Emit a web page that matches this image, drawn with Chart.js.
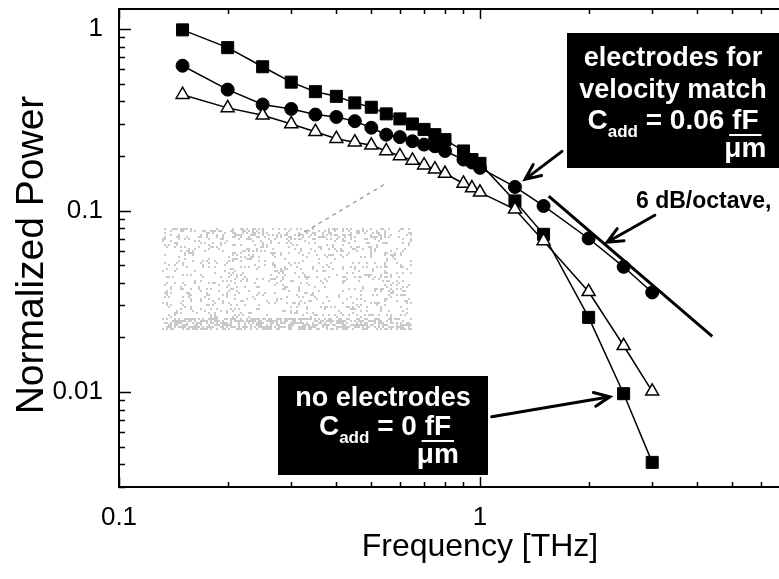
<!DOCTYPE html>
<html>
<head>
<meta charset="utf-8">
<script src="https://cdn.jsdelivr.net/npm/chart.js@4"></script>
<style>
  html, body { margin: 0; padding: 0; background: #fff; }
  canvas { display: block; }
</style>
</head>
<body>
<canvas id="chart" width="779" height="579"></canvas>
<script>
// frequencies in THz
const freqs = [0.15, 0.2, 0.25, 0.3, 0.35, 0.4, 0.45, 0.5, 0.55, 0.6, 0.65, 0.7, 0.75, 0.8, 0.9, 0.95, 1.0,
               1.25, 1.5, 2.0, 2.5, 3.0];
// no electrodes (filled squares)
const powerSquares = [0.99, 0.79, 0.62, 0.51, 0.452, 0.426, 0.392, 0.371, 0.341, 0.32, 0.30, 0.28, 0.262, 0.246, 0.213, 0.191, 0.182,
                      0.113, 0.074, 0.0258, 0.0098, 0.0041];
// electrodes for velocity match (filled circles)
const powerCircles = [0.628, 0.464, 0.384, 0.363, 0.338, 0.328, 0.311, 0.286, 0.262, 0.254, 0.241, 0.231, 0.226, 0.213, 0.191, 0.184, 0.172,
                      0.135, 0.106, 0.0702, 0.049, 0.0354];
// open triangles
const powerTriangles = [0.435, 0.368, 0.335, 0.30, 0.272, 0.249, 0.238, 0.229, 0.213, 0.20, 0.189, 0.178, 0.169, 0.16, 0.141, 0.133, 0.126,
                        0.1016, 0.068, 0.0357, 0.018, 0.0101];
// 6 dB/octave reference line
const slopeFreqs = [1.55, 4.4];
const slopePower = [0.12, 0.0203];

const xTickVals = [0.1, 1];
const yTickVals = [0.01, 0.1, 1];

const FONT = "'Liberation Sans', Arial, Helvetica, sans-serif";

function pts(xs, ys) {
  return xs.map((x, i) => ({ x: x, y: ys[i] }));
}

function minorVals(min, max) {
  const out = [];
  for (let d = 0.001; d <= 10; d *= 10) {
    for (let k = 1; k <= 9; k++) {
      const v = +(k * d).toPrecision(3);
      if (v >= min && v <= max) out.push(v);
    }
  }
  return out;
}

function arrow(ctx, x1, y1, x2, y2) {
  const ang = Math.atan2(y2 - y1, x2 - x1);
  const L = 17, spread = 0.42;
  ctx.beginPath();
  ctx.moveTo(x1, y1);
  ctx.lineTo(x2, y2);
  ctx.moveTo(x2 - L * Math.cos(ang - spread), y2 - L * Math.sin(ang - spread));
  ctx.lineTo(x2, y2);
  ctx.lineTo(x2 - L * Math.cos(ang + spread), y2 - L * Math.sin(ang + spread));
  ctx.stroke();
}

// C_add = <value> fF / um, centred on cx
function caddLine(ctx, cx, base, value) {
  const big = 'bold 28px ' + FONT, small = 'bold 17px ' + FONT;
  ctx.font = big;
  const wC = ctx.measureText('C').width;
  const wMid = ctx.measureText(' = ' + value + ' ').width;
  const wF = ctx.measureText('fF').width;
  ctx.font = small;
  const wSub = ctx.measureText('add').width;
  const total = wC + wSub + wMid + wF;
  let x = cx - total / 2;
  ctx.textAlign = 'left';
  ctx.textBaseline = 'alphabetic';
  ctx.font = big;
  ctx.fillText('C', x, base); x += wC;
  ctx.font = small;
  ctx.fillText('add', x, base + 8); x += wSub;
  ctx.font = big;
  ctx.fillText(' = ' + value + ' ', x, base); x += wMid;
  ctx.fillText('fF', x, base);
  ctx.fillRect(x - 3, base + 5, wF + 6, 2);
  ctx.textAlign = 'center';
  ctx.fillText('\u03bcm', x + wF / 2, base + 28);
}

const decor = {
  id: 'decor',
  afterDraw(chart) {
    const { ctx, chartArea: a, scales: { x, y } } = chart;
    ctx.save();
    ctx.strokeStyle = '#000';
    ctx.fillStyle = '#000';

    // top frame line
    ctx.lineWidth = 2;
    ctx.beginPath();
    ctx.moveTo(a.left, a.top);
    ctx.lineTo(a.right, a.top);
    ctx.stroke();

    // inward tick marks
    ctx.lineWidth = 1.5;
    ctx.beginPath();
    minorVals(y.min, y.max).forEach(v => {
      const py = Math.round(y.getPixelForValue(v)) + 0.5;
      const len = yTickVals.includes(v) ? 12 : 6;
      ctx.moveTo(a.left, py);
      ctx.lineTo(a.left + len, py);
    });
    minorVals(x.min, x.max).forEach(v => {
      const px = Math.round(x.getPixelForValue(v)) + 0.5;
      const len = xTickVals.includes(v) ? 10 : 5;
      ctx.moveTo(px, a.bottom);
      ctx.lineTo(px, a.bottom - len);
      ctx.moveTo(px, a.top);
      ctx.lineTo(px, a.top + len);
    });
    ctx.stroke();

    // faded scan residue left of the curves (speckle texture)
    ctx.fillStyle = 'rgba(100,100,100,0.35)';
    for (let yy = 228; yy < 330; yy += 2) {
      const band = yy > 316 ? 0.55 : (yy < 240 ? 0.28 : 0.15);
      for (let xx = 162; xx < 411; xx += 2) {
        const h = Math.abs(Math.sin(xx * 12.9898 + yy * 78.233) * 43758.5453) % 1;
        if (h < band) ctx.fillRect(xx, yy, 2, 2);
      }
    }
    ctx.strokeStyle = 'rgba(90,90,90,0.55)';
    ctx.lineWidth = 1.5;
    ctx.setLineDash([4, 4]);
    ctx.beginPath();
    ctx.moveTo(298, 236);
    ctx.lineTo(385, 184);
    ctx.stroke();
    ctx.setLineDash([]);

    // arrows (in data coordinates)
    ctx.strokeStyle = '#000';
    ctx.lineWidth = 3;
    ctx.lineCap = 'round';
    const P = (f, p) => [x.getPixelForValue(f), y.getPixelForValue(p)];
    arrow(ctx, ...P(1.687, 0.212), ...P(1.333, 0.1486));
    arrow(ctx, ...P(3.05, 0.0942), ...P(2.25, 0.0669));
    arrow(ctx, ...P(1.078, 0.00732), ...P(2.29, 0.00942));

    // annotation boxes
    ctx.fillStyle = '#000';
    ctx.fillRect(567, 33, 779 - 567, 168 - 33);
    ctx.fillRect(278, 376, 488 - 278, 475 - 376);
    ctx.fillStyle = '#fff';
    ctx.textAlign = 'center';
    ctx.textBaseline = 'alphabetic';
    ctx.font = 'bold 27px ' + FONT;
    ctx.fillText('electrodes for', 673, 66);
    ctx.fillText('velocity match', 673, 98);
    caddLine(ctx, 673, 129, '0.06');
    ctx.font = 'bold 27px ' + FONT;
    ctx.textAlign = 'center';
    ctx.fillText('no electrodes', 383, 406);
    caddLine(ctx, 385, 435, '0');

    ctx.fillStyle = '#000';
    ctx.textAlign = 'left';
    ctx.font = 'bold 23px ' + FONT;
    ctx.fillText('6 dB/octave,', 636, 208);

    // axis titles
    ctx.font = '32px ' + FONT;
    ctx.textAlign = 'center';
    ctx.textBaseline = 'middle';
    ctx.fillText('Frequency [THz]', x.getPixelForValue(1), 547);
    ctx.font = '39px ' + FONT;
    ctx.textBaseline = 'alphabetic';
    ctx.translate(43, 255);
    ctx.rotate(-Math.PI / 2);
    ctx.fillText('Normalized Power', 0, 0);
    ctx.restore();
  }
};

new Chart(document.getElementById('chart'), {
  type: 'line',
  data: {
    datasets: [
      {
        label: 'open triangles',
        data: pts(freqs, powerTriangles),
        borderColor: '#000', borderWidth: 1.5,
        pointStyle: 'triangle', pointRadius: 7.5,
        pointBackgroundColor: '#fff', pointBorderColor: '#000', pointBorderWidth: 1.5
      },
      {
        label: 'electrodes for velocity match',
        data: pts(freqs, powerCircles),
        borderColor: '#000', borderWidth: 1.5,
        pointStyle: 'circle', pointRadius: 6.5,
        pointBackgroundColor: '#000', pointBorderColor: '#000', pointBorderWidth: 1
      },
      {
        label: 'no electrodes',
        data: pts(freqs, powerSquares),
        borderColor: '#000', borderWidth: 1.5,
        pointStyle: 'rect', pointRadius: 8.5,
        pointBackgroundColor: '#000', pointBorderColor: '#000', pointBorderWidth: 1
      },
      {
        label: '6 dB/octave',
        data: pts(slopeFreqs, slopePower),
        borderColor: '#000', borderWidth: 3,
        pointRadius: 0
      }
    ]
  },
  options: {
    responsive: false,
    animation: false,
    devicePixelRatio: 1,
    layout: { autoPadding: false, padding: { top: 9, right: 0, left: 0, bottom: 0 } },
    plugins: { legend: { display: false }, tooltip: { enabled: false } },
    elements: { line: { tension: 0 } },
    scales: {
      x: {
        type: 'logarithmic',
        min: 0.1,
        max: 6.735,
        grid: { display: false, drawTicks: false },
        border: { display: true, color: '#000', width: 2 },
        ticks: {
          color: '#000',
          font: { family: FONT, size: 26 },
          padding: 15,
          maxRotation: 0,
          autoSkip: false,
          callback: v => String(v)
        },
        afterBuildTicks: s => { s.ticks = xTickVals.map(v => ({ value: v })); },
        afterFit: s => { s.height = 92; s.paddingLeft = 0; s.paddingRight = 0; }
      },
      y: {
        type: 'logarithmic',
        min: 0.003,
        max: 1.29,
        grid: { display: false, drawTicks: false },
        border: { display: true, color: '#000', width: 2 },
        ticks: {
          color: '#000',
          font: { family: FONT, size: 26 },
          padding: 16,
          autoSkip: false,
          callback: v => String(v)
        },
        afterBuildTicks: s => { s.ticks = yTickVals.map(v => ({ value: v })); },
        afterFit: s => { s.width = 119; s.paddingTop = 0; s.paddingBottom = 0; }
      }
    }
  },
  plugins: [decor]
});
</script>
</body>
</html>
